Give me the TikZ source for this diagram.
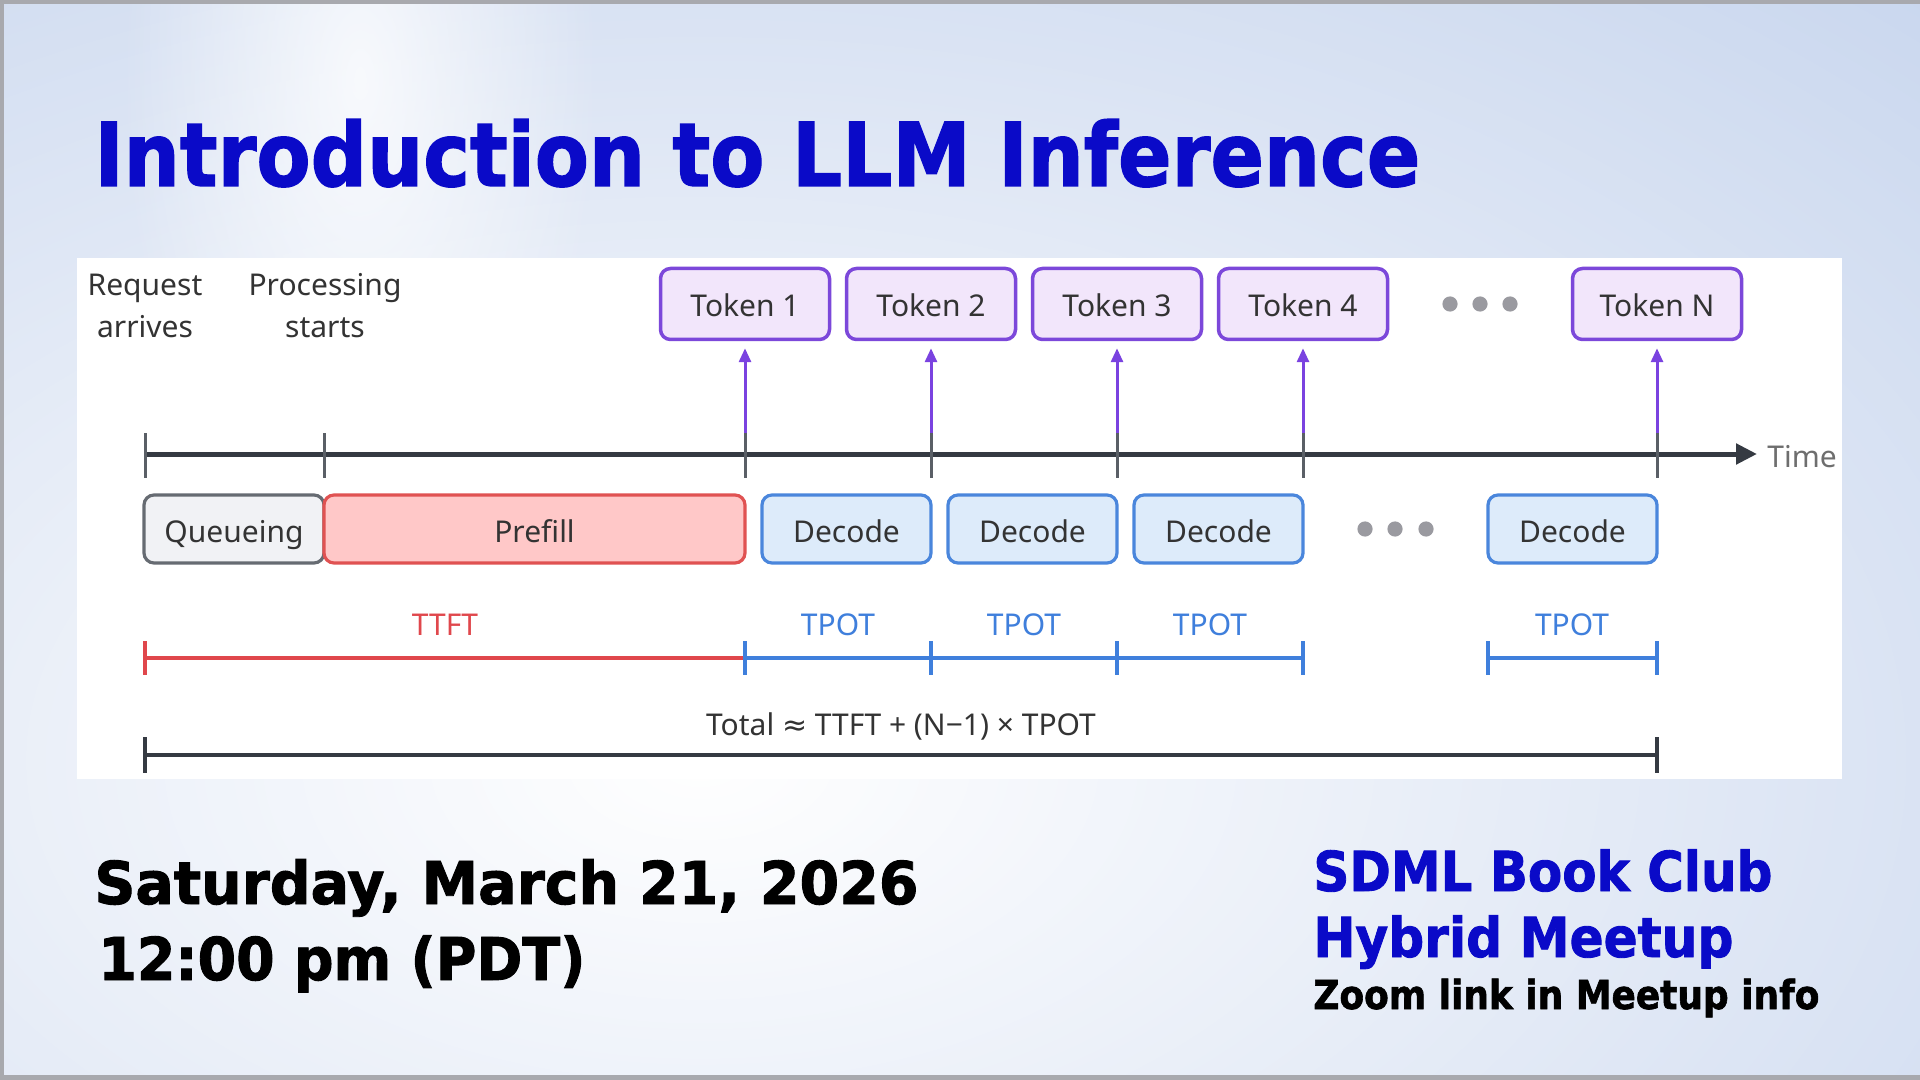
\documentclass[tikz,border=0pt]{standalone}
\usepackage{fontspec}
\usepackage{graphicx}
\usetikzlibrary{arrows.meta,fadings}
\tikzfading[name=glowfade, inner color=transparent!0, outer color=transparent!100]
\setmainfont{Noto Sans}
\newfontfamily\heavy{DejaVu Sans}[BoldFeatures={FakeBold=1.6}]
\newfontfamily\symf{DejaVu Sans}
\definecolor{bgbase}{HTML}{B4C7E8}
\definecolor{framegray}{HTML}{A8A9AE}
\definecolor{txt}{HTML}{333333}
\definecolor{timegray}{HTML}{6E6E6E}
\definecolor{titleblue}{HTML}{0A0AC8}
\definecolor{tokborder}{HTML}{7C48DA}
\definecolor{tokfill}{HTML}{F2E6FB}
\definecolor{arrowpurple}{HTML}{7A42E0}
\definecolor{decborder}{HTML}{4A86DC}
\definecolor{decfill}{HTML}{DDEBFA}
\definecolor{prefborder}{HTML}{E05252}
\definecolor{preffill}{HTML}{FFC8C8}
\definecolor{queueborder}{HTML}{666B72}
\definecolor{queuefill}{HTML}{F1F2F5}
\definecolor{tickgray}{HTML}{5A5F66}
\definecolor{axisdark}{HTML}{353A42}
\definecolor{ttftred}{HTML}{E0474C}
\definecolor{tpotblue}{HTML}{3F7FDC}
\definecolor{dotgray}{HTML}{9A9AA0}
\begin{document}
\begin{tikzpicture}[x=0.5pt,y=-0.5pt,
  every node/.style={inner sep=0pt},
  lab/.style={font=\fontsize{15}{18}\selectfont, text=txt, anchor=base},
  tokbox/.style={draw=tokborder, fill=tokfill, line width=1.75pt, rounded corners=5pt,
    minimum width=84.5pt, minimum height=35.5pt, text height=15pt, text depth=2pt,
    font=\fontsize{15}{18}\selectfont, text=txt},
  rowbox/.style={line width=1.6pt, rounded corners=5pt, minimum height=34pt,
    text height=15pt, text depth=2pt, font=\fontsize{15}{18}\selectfont, text=txt},
  decbox/.style={rowbox, draw=decborder, fill=decfill, minimum width=84.5pt},
  prefbox/.style={rowbox, draw=prefborder, fill=preffill, minimum width=210.5pt},
  queuebox/.style={rowbox, draw=queueborder, fill=queuefill, minimum width=90pt},
  tick/.style={draw=tickgray, line width=1.5pt},
  tokarrow/.style={draw=arrowpurple, line width=1.5pt, shorten >=3.5pt, -{Triangle[length=7pt,width=6pt]}},
  axis/.style={draw=axisdark, line width=2.5pt, -{Triangle[length=10.5pt,width=10pt]}},
  ttft/.style={draw=ttftred, line width=2pt},
  tpot/.style={draw=tpotblue, line width=2pt},
  tot/.style={draw=axisdark, line width=2pt},
  bigtxt/.style={anchor=base west, inner sep=0pt}
]
\useasboundingbox (0,0) rectangle (1920,1080);
% background
\fill[bgbase] (0,0) rectangle (1920,1080);
\begin{scope}
\clip (0,0) rectangle (1920,1080);
\fill[white, path fading=glowfade, fill opacity=1] (700,760) ellipse [x radius=2500, y radius=1500];
\fill[white, path fading=glowfade, fill opacity=0.8] (360,80) ellipse [x radius=240, y radius=520];
\end{scope}
\fill[framegray] (0,0) rectangle (1920,4);
\fill[framegray] (0,0) rectangle (4,1080);
\fill[framegray] (0,1075) rectangle (1920,1080);
% title
\node[bigtxt] (title) at (94,186) {\resizebox{663pt}{\height}{\color{titleblue}\heavy\bfseries\fontsize{44}{50}\selectfont Introduction to LLM Inference}};
% panel
\fill[white] (77,258) rectangle (1842,779);
% labels top-left
\node[lab] (req1) at (145,296) {Request};
\node[lab] (req2) at (145,338) {arrives};
\node[lab] (proc1) at (325,296) {Processing};
\node[lab] (proc2) at (325,338) {starts};
% tokens
\node[tokbox] (tok1) at (745,304) {Token 1};
\node[tokbox] (tok2) at (931,304) {Token 2};
\node[tokbox] (tok3) at (1117,304) {Token 3};
\node[tokbox] (tok4) at (1303,304) {Token 4};
\node[tokbox] (tokN) at (1657,304) {Token N};
\foreach \x in {1450,1480,1510} \fill[dotgray] (\x,304) circle[radius=3.8pt];
% timeline
\foreach \n/\x in {A/145,B/324,1/745,2/931,3/1117,4/1303,N/1657} \coordinate (t\n) at (\x,454);
\coordinate (axend) at (1757,454);
\draw[axis] (tA) -- (axend);
\foreach \n in {A,B,1,2,3,4,N} \draw[tick] (t\n) ++(0,-21) -- ++(0,45);
\foreach \n in {1,2,3,4,N} \draw[tokarrow] (t\n) ++(0,-21) -- (tok\n.south);
\node[anchor=base west, font=\fontsize{15}{18}\selectfont, text=timegray] (time) at (1767,467) {Time};
% row boxes
\node[queuebox] (queue) at (234,529) {Queueing};
\node[prefbox] (prefill) at (534.5,529) {Prefill};
\node[decbox] (dec1) at (846.5,529) {Decode};
\node[decbox] (dec2) at (1032.5,529) {Decode};
\node[decbox] (dec3) at (1218.5,529) {Decode};
\node[decbox] (decN) at (1572.5,529) {Decode};
\foreach \x in {1365,1395,1426} \fill[dotgray] (\x,529) circle[radius=3.8pt];
% TTFT / TPOT bars
\draw[ttft] (145,658) -- (745,658);
\draw[ttft] (145,641) -- (145,675);
\draw[tpot] (745,658) -- (1303,658);
\foreach \x in {745,931,1117,1303} \draw[tpot] (\x,641) -- (\x,675);
\draw[tpot] (1488,658) -- (1657,658);
\foreach \x in {1488,1657} \draw[tpot] (\x,641) -- (\x,675);
\node[lab, text=ttftred] (lttft) at (445,635) {TTFT};
\node[lab, text=tpotblue] (lp1) at (838,635) {TPOT};
\node[lab, text=tpotblue] (lp2) at (1024,635) {TPOT};
\node[lab, text=tpotblue] (lp3) at (1210,635) {TPOT};
\node[lab, text=tpotblue] (lpN) at (1572,635) {TPOT};
% total
\draw[tot] (145,755) -- (1657,755);
\draw[tot] (145,737) -- (145,773);
\draw[tot] (1657,737) -- (1657,773);
\node[lab] (ltot) at (901,735) {Total {\symf ≈} TTFT + (N−1) × TPOT};
% bottom texts
\node[bigtxt] (date) at (94,904) {\resizebox{412pt}{\height}{\color{black}\heavy\bfseries\fontsize{29.5}{34}\selectfont Saturday, March 21, 2026}};
\node[bigtxt] (time2) at (98,980) {\resizebox{243.5pt}{\height}{\color{black}\heavy\bfseries\fontsize{29.5}{34}\selectfont 12:00 pm (PDT)}};
\node[bigtxt] (sdml) at (1313,891) {\resizebox{229.5pt}{\height}{\color{titleblue}\heavy\bfseries\fontsize{27.5}{32}\selectfont SDML Book Club}};
\node[bigtxt] (hyb) at (1313,957) {\resizebox{210pt}{\height}{\color{titleblue}\heavy\bfseries\fontsize{27.5}{32}\selectfont Hybrid Meetup}};
\node[bigtxt] (zoom) at (1313,1009) {\resizebox{253pt}{\height}{\color{black}\heavy\bfseries\fontsize{20}{24}\selectfont Zoom link in Meetup info}};
\end{tikzpicture}
\end{document}
